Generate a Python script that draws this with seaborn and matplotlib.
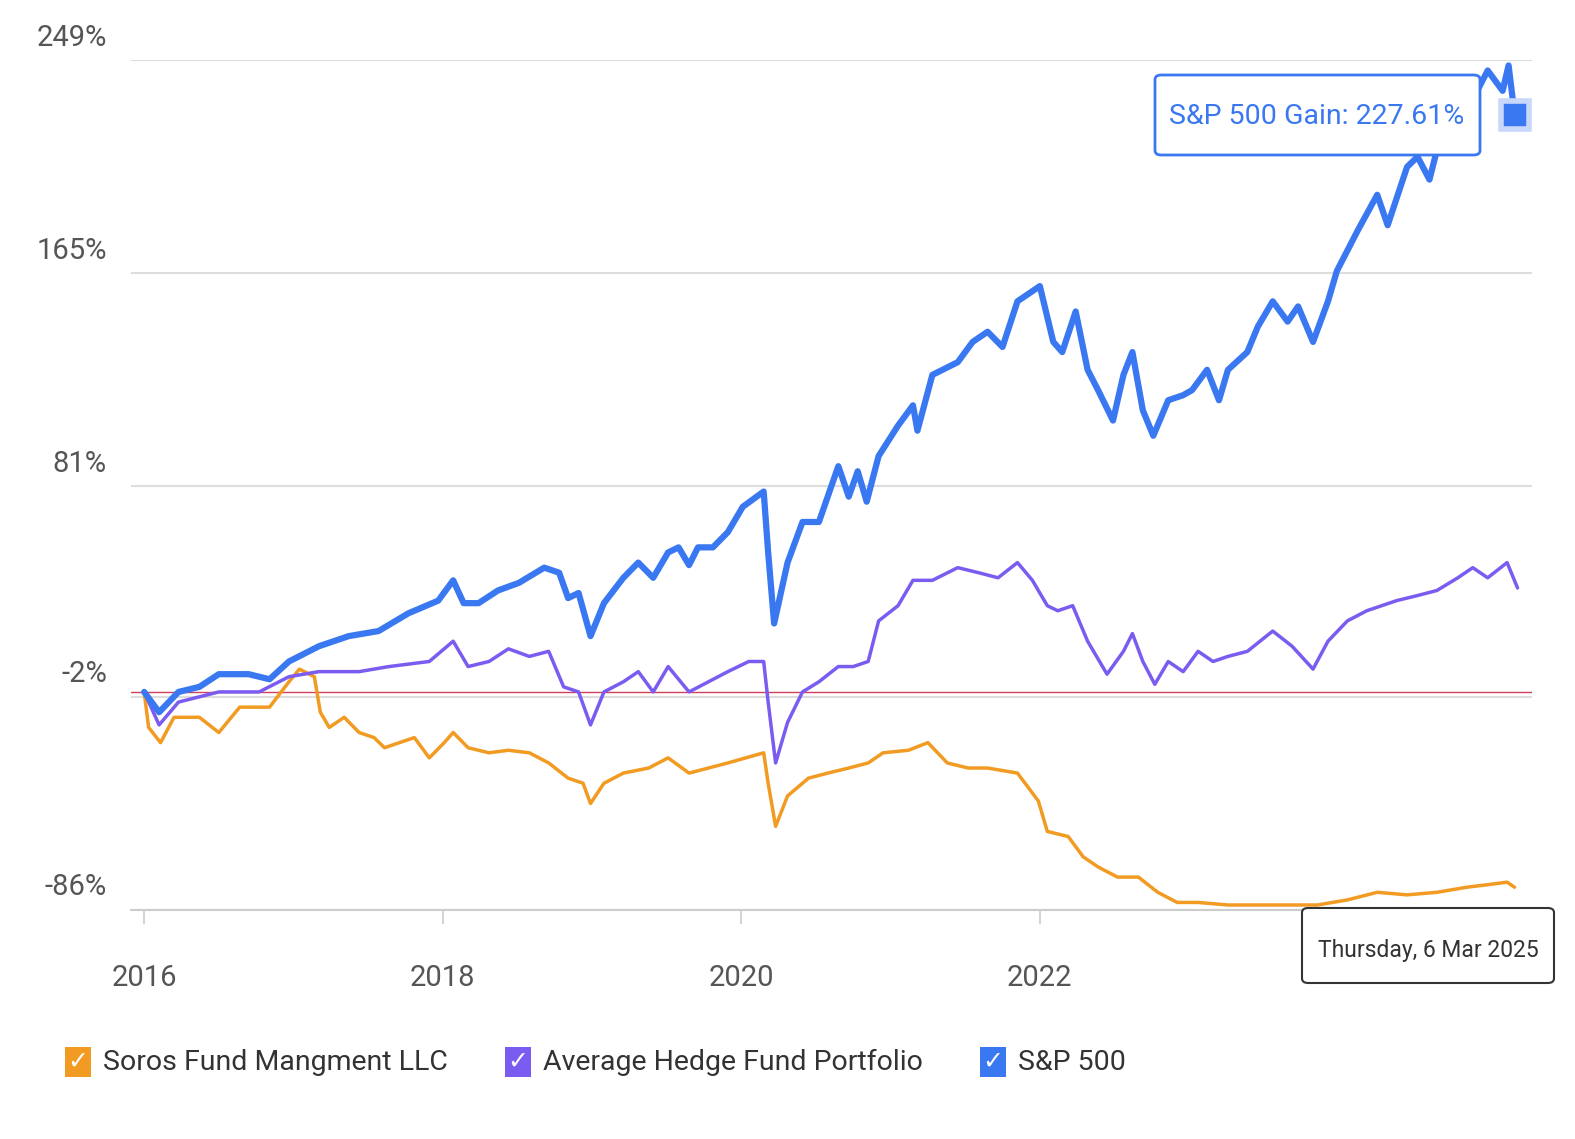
import matplotlib
matplotlib.use("Agg")
import matplotlib.pyplot as plt
import seaborn as sns
import pandas as pd
from matplotlib.patches import FancyBboxPatch, Rectangle

# =========================
# Data (decimal years, % gain)
# =========================
sp_years = [2016.00, 2016.10, 2016.23, 2016.37, 2016.50, 2016.70, 2016.84, 2016.97, 2017.17, 2017.37,
            2017.57, 2017.77, 2017.97, 2018.07, 2018.14, 2018.24, 2018.37, 2018.51, 2018.68, 2018.78,
            2018.84, 2018.91, 2018.99, 2019.08, 2019.21, 2019.31, 2019.41, 2019.51, 2019.58, 2019.65,
            2019.71, 2019.81, 2019.91, 2020.01, 2020.15, 2020.18, 2020.22, 2020.31, 2020.41, 2020.52,
            2020.65, 2020.72, 2020.78, 2020.84, 2020.92, 2021.05, 2021.15, 2021.18, 2021.28, 2021.45,
            2021.55, 2021.65, 2021.75, 2021.85, 2022.00, 2022.09, 2022.15, 2022.24, 2022.32, 2022.39,
            2022.49, 2022.56, 2022.62, 2022.69, 2022.76, 2022.86, 2022.96, 2023.02, 2023.12, 2023.20,
            2023.26, 2023.39, 2023.46, 2023.56, 2023.66, 2023.73, 2023.83, 2023.93, 2023.99, 2024.13,
            2024.26, 2024.33, 2024.46, 2024.53, 2024.61, 2024.70, 2024.80, 2024.93, 2025.00, 2025.10,
            2025.14, 2025.18]
sp_gain = [0, -8, 0, 2, 7, 7, 5, 12, 18, 22,
           24, 31, 36, 44, 35, 35, 40, 43, 49, 47,
           37, 39, 22, 35, 45, 51, 45, 55, 57, 50,
           57, 57, 63, 73, 79, 55, 27, 51, 67, 67,
           89, 77, 87, 75, 93, 105, 113, 103, 125, 130,
           138, 142, 136, 154, 160, 138, 134, 150, 127, 119,
           107, 125, 134, 111, 101, 115, 117, 119, 127, 115,
           127, 134, 144, 154, 146, 152, 138, 154, 166, 182,
           196, 184, 207, 211, 202, 223, 233, 237, 245, 237,
           247, 227.61]

hf_years = [2016.00, 2016.10, 2016.23, 2016.50, 2016.77, 2016.97, 2017.17, 2017.44, 2017.64, 2017.91,
            2018.07, 2018.17, 2018.31, 2018.44, 2018.58, 2018.71, 2018.81, 2018.91, 2018.99, 2019.08,
            2019.21, 2019.31, 2019.41, 2019.51, 2019.65, 2019.78, 2019.91, 2020.05, 2020.15, 2020.18,
            2020.23, 2020.31, 2020.41, 2020.52, 2020.65, 2020.75, 2020.85, 2020.92, 2021.05, 2021.15,
            2021.28, 2021.45, 2021.59, 2021.72, 2021.85, 2021.95, 2022.05, 2022.12, 2022.22, 2022.32,
            2022.45, 2022.56, 2022.62, 2022.69, 2022.77, 2022.86, 2022.96, 2023.06, 2023.16, 2023.26,
            2023.39, 2023.56, 2023.69, 2023.83, 2023.93, 2024.06, 2024.19, 2024.29, 2024.39, 2024.53,
            2024.66, 2024.80, 2024.90, 2025.00, 2025.13, 2025.20]
hf_gain = [0, -13, -4, 0, 0, 6, 8, 8, 10, 12,
           20, 10, 12, 17, 14, 16, 2, 0, -13, 0,
           4, 8, 0, 10, 0, 4, 8, 12, 12, -4,
           -28, -12, 0, 4, 10, 10, 12, 28, 34, 44,
           44, 49, 47, 45, 51, 44, 34, 32, 34, 20,
           7, 16, 23, 12, 3, 12, 8, 16, 12, 14,
           16, 24, 18, 9, 20, 28, 32, 34, 36, 38,
           40, 45, 49, 45, 51, 41]

soros_years = [2016.00, 2016.03, 2016.11, 2016.20, 2016.37, 2016.50, 2016.64, 2016.84, 2016.97, 2017.04,
               2017.14, 2017.18, 2017.24, 2017.34, 2017.44, 2017.54, 2017.61, 2017.71, 2017.81, 2017.91,
               2018.01, 2018.07, 2018.17, 2018.31, 2018.44, 2018.58, 2018.71, 2018.84, 2018.94, 2018.99,
               2019.08, 2019.21, 2019.38, 2019.51, 2019.65, 2019.78, 2019.91, 2020.15, 2020.18, 2020.23,
               2020.31, 2020.45, 2020.58, 2020.72, 2020.85, 2020.95, 2021.12, 2021.25, 2021.38, 2021.52,
               2021.65, 2021.85, 2021.99, 2022.05, 2022.19, 2022.29, 2022.39, 2022.52, 2022.66, 2022.79,
               2022.92, 2023.06, 2023.26, 2023.46, 2023.66, 2023.86, 2024.06, 2024.26, 2024.46, 2024.66,
               2024.86, 2025.00, 2025.13, 2025.18]
soros_gain = [0, -14, -20, -10, -10, -16, -6, -6, 4, 9,
              6, -8, -14, -10, -16, -18, -22, -20, -18, -26,
              -20, -16, -22, -24, -23, -24, -28, -34, -36, -44,
              -36, -32, -30, -26, -32, -30, -28, -24, -36, -53,
              -41, -34, -32, -30, -28, -24, -23, -20, -28, -30,
              -30, -32, -43, -55, -57, -65, -69, -73, -73, -79,
              -83, -83, -84, -84, -84, -84, -82, -79, -80, -79,
              -77, -76, -75, -77]

series_names = ["Soros Fund Mangment LLC", "Average Hedge Fund Portfolio", "S&P 500"]
colors = ["#F29B22", "#7B5CF0", "#3A78F2"]
y_ticks = [249, 165, 81, -2, -86]
x_ticks = [2016, 2018, 2020, 2022]

df = pd.concat([
    pd.DataFrame({"year": soros_years, "gain": soros_gain, "series": series_names[0]}),
    pd.DataFrame({"year": hf_years, "gain": hf_gain, "series": series_names[1]}),
    pd.DataFrame({"year": sp_years, "gain": sp_gain, "series": series_names[2]}),
])

# =========================
# Plot
# =========================
sns.set_style("white")
plt.rcParams["font.family"] = ["Roboto", "DejaVu Sans"]

fig = plt.figure(figsize=(15.75, 11.39), dpi=100)
ax = fig.add_axes([0.083, 0.201, 0.89, 0.746])

for name, color, lw in zip(series_names, colors, [2.5, 2.5, 4.5]):
    sub = df[df["series"] == name]
    sns.lineplot(data=sub, x="year", y="gain", color=color, linewidth=lw, ax=ax,
                 legend=False, zorder=3 if name == "S&P 500" else 2)

ax.set_ylim(-86, 249)
ax.set_xlim(2015.91, 2025.3)
ax.set_yticks(y_ticks)
ax.set_yticklabels([])
ax.set_xticks(x_ticks)
ax.set_xticklabels([])
ax.set_xlabel("")
ax.set_ylabel("")
ax.grid(axis="y", color="#DDDDDD", linewidth=1.5)
ax.tick_params(axis="x", length=10, width=1.2, color="#CCCCCC", direction="out", bottom=True)
ax.tick_params(axis="y", length=0)
for side in ["top", "right", "left"]:
    ax.spines[side].set_visible(False)
ax.spines["bottom"].set_color("#CCCCCC")
ax.spines["bottom"].set_linewidth(1.5)
ax.axhline(0, color="#D0405A", linewidth=1, zorder=1)

for t in y_ticks:
    ax.text(-0.017, t + 9, f"{t}%", transform=ax.get_yaxis_transform(), ha="right",
            va="center", fontsize=21, color="#555555")
for t in x_ticks:
    ax.text(t, -0.08, str(t), transform=ax.get_xaxis_transform(), ha="center",
            va="center", fontsize=21, color="#555555")

# tooltips
ax.plot(sp_years[-1], sp_gain[-1], marker="s", markersize=20, color="#3A78F2",
        markeredgecolor="#C9D8FA", markeredgewidth=4, zorder=5, clip_on=False)
fig.patches.append(FancyBboxPatch((1155 / 1575, 1 - 155 / 1139), 325 / 1575, 80 / 1139,
                                  boxstyle="round,pad=0,rounding_size=0.004",
                                  transform=fig.transFigure, facecolor="white",
                                  edgecolor="#3A78F2", linewidth=2, zorder=10))
fig.text(1317 / 1575, 1 - 116 / 1139, "S&P 500 Gain: 227.61%", ha="center", va="center",
         fontsize=20.5, color="#3A78F2", zorder=11)
fig.patches.append(FancyBboxPatch((1302 / 1575, 1 - 983 / 1139), 252 / 1575, 75 / 1139,
                                  boxstyle="round,pad=0,rounding_size=0.004",
                                  transform=fig.transFigure, facecolor="white",
                                  edgecolor="#333333", linewidth=1.5, zorder=10))
fig.text(1428 / 1575, 1 - 950 / 1139, "Thursday, 6 Mar 2025", ha="center", va="center",
         fontsize=16.5, color="#333333", zorder=11)

# legend with checkboxes
legend_x = [65, 505, 980]
for x0, name, color in zip(legend_x, series_names, colors):
    fig.patches.append(Rectangle((x0 / 1575, 1 - 1077 / 1139), 26 / 1575, 30 / 1139,
                                 transform=fig.transFigure, facecolor=color, edgecolor="none"))
    fig.text((x0 + 13) / 1575, 1 - 1062 / 1139, "\u2713", ha="center", va="center",
             fontsize=18, color="white", fontweight="bold", family="DejaVu Sans")
    fig.text((x0 + 38) / 1575, 1 - 1062 / 1139, name, ha="left", va="center",
             fontsize=20.5, color="#333333")

fig.savefig("out.png", dpi=100)
plt.close(fig)
